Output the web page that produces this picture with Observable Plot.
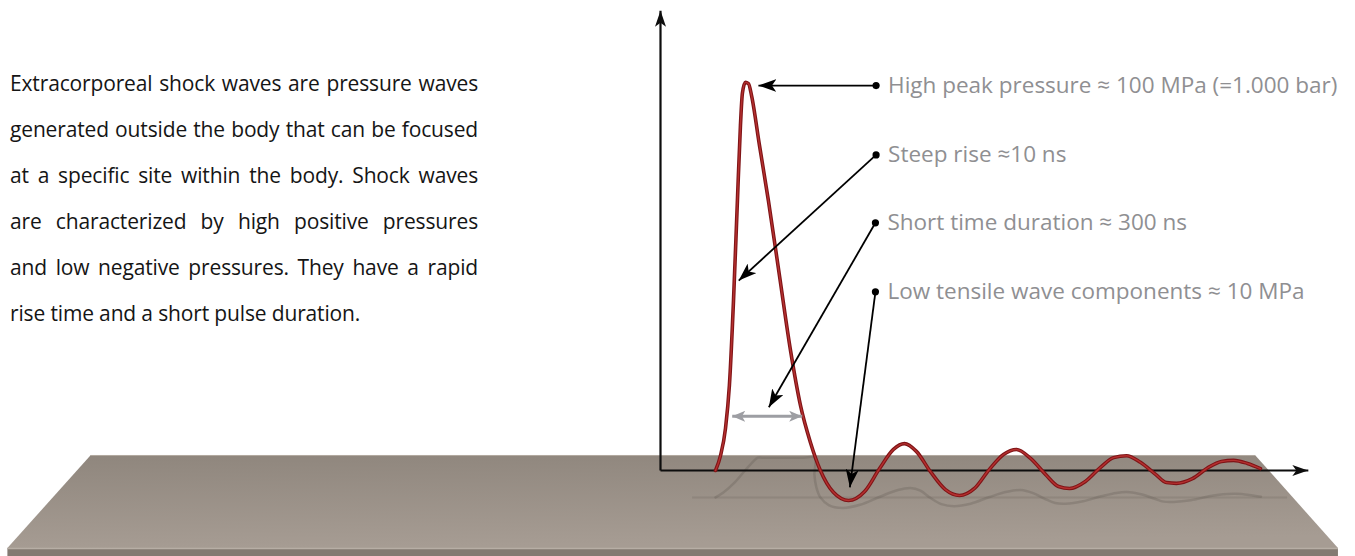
<!DOCTYPE html>
<html><head><meta charset="utf-8">
<script src="https://cdn.jsdelivr.net/npm/d3@7"></script>
<script src="https://cdn.jsdelivr.net/npm/@observablehq/plot@0.6"></script>
<style>
html,body{margin:0;padding:0;background:#fff;}
#wrap{position:relative;width:1355px;height:556px;overflow:hidden;}
#intro{position:absolute;left:10px;top:60px;width:468px;font-family:"Open Sans","Liberation Sans",sans-serif;font-size:21px;letter-spacing:-0.15px;line-height:46px;color:#151515;}
#intro div{text-align:justify;text-align-last:justify;white-space:nowrap;}
#intro div.last{text-align-last:left;}
#chart{position:absolute;left:0;top:0;}
</style></head><body>
<div id="wrap"><div id="chart"></div><div id="intro"></div></div>
<script>
// ---- Text ----
const introLines = [
  "Extracorporeal shock waves are pressure waves",
  "generated outside the body that can be focused",
  "at a specific site within the body. Shock waves",
  "are characterized by high positive pressures",
  "and low negative pressures. They have a rapid",
  "rise time and a short pulse duration."
];
// ---- Waveform (time in ns, pressure in MPa) ----
const waveTime = [254,277,300,318,337,355,369,378,392,406,420,457,498,549,600,646,692,738,798,868,942,1011,1075,1126,1181,1246,1315,1380,1449,1518,1583,1643,1708,1777,1837,1888,1961,2031,2091,2151,2215,2285,2335,2381,2455,2529,2589,2645,2709,2769];
const wavePressure = [0,3.8,10.8,21.8,43.6,69.2,88.5,96.7,99.5,99.2,96.2,83.3,69.2,50.0,30.8,16.7,7.2,0,-5.6,-7.7,-5.4,0.5,5.4,6.9,4.9,-0.3,-4.9,-6.4,-4.6,0.3,4.1,5.4,3.1,-1.0,-4.1,-4.6,-2.8,0.8,3.3,3.8,2.1,-1.0,-3.1,-3.3,-2.1,0.8,2.3,2.6,1.8,0.5];
// ---- Axes extent ----
const axisTimeEnd = 2990;
const axisPressureEnd = 117.9;
// ---- Annotations ----
const annoLabels = [
  "High peak pressure \u2248 100 MPa (=1.000 bar)",
  "Steep rise \u224810 ns",
  "Short time duration \u2248 300 ns",
  "Low tensile wave components \u2248 10 MPa"
];
const annoDotTime = [995,995,992,992];
const annoDotPressure = [98.7,80.9,63.5,45.8];
const annoTipTime = [452,361,500,874];
const annoTipPressure = [98.7,48.7,16.2,-4.3];
// duration marker
const durationStart = 331, durationEnd = 654, durationPressure = 13.9;
// ---- Platform (stage) corners, data units ----
const platTopPressure = 3.85, platBottomPressure = -20, platFrontPressure = -22.05;
const platTopTime = [-2627, 2746];
const platBottomTime = [-3012, 3129];
const shadowBasePressure = -6.9;
const shadowLineTime = [148, 2894];

// ---- Derived tables ----
const wave = waveTime.map((t, i) => ({t, p: wavePressure[i]}));
const shadow = wave.map(d => {
  const lift = Math.min(0.35 * d.p, 10.2);
  return {t: d.t + lift * 11, p: shadowBasePressure + lift};
});
const platform = [
  {p: platTopPressure, x1: platTopTime[0], x2: platTopTime[1]},
  {p: platBottomPressure, x1: platBottomTime[0], x2: platBottomTime[1]}
];
const anno = annoLabels.map((label, i) => ({label, dt: annoDotTime[i], dp: annoDotPressure[i], tt: annoTipTime[i], tp: annoTipPressure[i]}));

const FONT = '"Open Sans","Liberation Sans",sans-serif';

const chart = Plot.plot({
  width: 1355, height: 556,
  marginTop: 0, marginRight: 0, marginBottom: 0, marginLeft: 0,
  x: {domain: [0, 3000], range: [660, 1310], axis: null},
  y: {domain: [-22.05, 120.5], range: [556, 0], axis: null},
  marks: [
    // stage top
    Plot.areaX(platform, {y: "p", x1: "x1", x2: "x2", fill: "url(#platGrad)"}),
    // stage front
    Plot.rect([0], {x1: platBottomTime[0], x2: platBottomTime[1], y1: platBottomPressure, y2: platFrontPressure, fill: "#837a72"}),
    Plot.ruleY([platBottomPressure], {x1: platBottomTime[0], x2: platBottomTime[1], stroke: "#b7aea5", strokeWidth: 1.5}),
    Plot.ruleY([platTopPressure], {x1: platTopTime[0], x2: platTopTime[1], stroke: "#b3aaa1", strokeWidth: 1}),
    // shadows
    Plot.ruleY([shadowBasePressure], {x1: shadowLineTime[0], x2: shadowLineTime[1], stroke: "#6a625b", strokeOpacity: 0.25, strokeWidth: 2}),
    Plot.line(shadow, {x: "t", y: "p", curve: "catmull-rom", stroke: "#5f5750", strokeOpacity: 0.28, strokeWidth: 2.5}),
    // axes
    Plot.link([{x1: 0, y1: 0, x2: 0, y2: axisPressureEnd}, {x1: 0, y1: 0, x2: axisTimeEnd, y2: 0}], {x1: "x1", y1: "y1", x2: "x2", y2: "y2", stroke: "#0d0d0d", strokeWidth: 2.2}),
    // wave
    Plot.line(wave, {x: "t", y: "p", curve: "monotone-x", stroke: "#7f1417", strokeWidth: 3.6}),
    Plot.line(wave, {x: "t", y: "p", curve: "monotone-x", stroke: "#b5302f", strokeWidth: 1.4}),
    // annotation leaders
    Plot.link(anno, {x1: "dt", y1: "dp", x2: "tt", y2: "tp", stroke: "#000", strokeWidth: 1.8}),
    Plot.dot(anno, {x: "dt", y: "dp", r: 3.6, fill: "#000"}),
    Plot.link([0], {x1: durationStart, x2: durationEnd, y1: durationPressure, y2: durationPressure, stroke: "#9d9ea3", strokeWidth: 3}),
    Plot.text(anno, {x: "dt", y: "dp", text: "label", dx: 12, textAnchor: "start", fill: "#8f8f92", fontSize: 22.5, fontFamily: FONT})
  ]
});

// defs: gradient and arrowheads
const svg = d3.select(chart);
const defs = svg.insert("defs", ":first-child");
const g = defs.append("linearGradient").attr("id", "platGrad").attr("x1", 0).attr("y1", 0).attr("x2", 0.15).attr("y2", 1);
g.append("stop").attr("offset", 0).attr("stop-color", "#8f867d");
g.append("stop").attr("offset", 1).attr("stop-color", "#a69c93");
function marker(id, len, wid, color) {
  defs.append("marker").attr("id", id).attr("viewBox", `0 0 ${len} ${wid}`)
    .attr("refX", len).attr("refY", wid / 2).attr("markerUnits", "userSpaceOnUse")
    .attr("markerWidth", len).attr("markerHeight", wid).attr("orient", "auto-start-reverse")
    .append("path").attr("d", `M0,0L${len},${wid/2}L0,${wid}L${len*0.25},${wid/2}Z`).attr("fill", color);
}
marker("headAxis", 16, 11, "#0d0d0d");
marker("headAnno", 18, 13, "#000");
marker("headGray", 13, 11, "#9d9ea3");
const links = chart.querySelectorAll('g[aria-label="link"]');
links[0].querySelectorAll("path").forEach(p => p.setAttribute("marker-end", "url(#headAxis)"));
links[1].querySelectorAll("path").forEach(p => p.setAttribute("marker-end", "url(#headAnno)"));
links[2].querySelectorAll("path").forEach(p => { p.setAttribute("marker-end", "url(#headGray)"); p.setAttribute("marker-start", "url(#headGray)"); });

document.getElementById("chart").appendChild(chart);
const intro = document.getElementById("intro");
introLines.forEach((line, i) => {
  const d = document.createElement("div");
  d.textContent = line;
  if (i === introLines.length - 1) d.className = "last";
  intro.appendChild(d);
});
</script>
</body></html>
